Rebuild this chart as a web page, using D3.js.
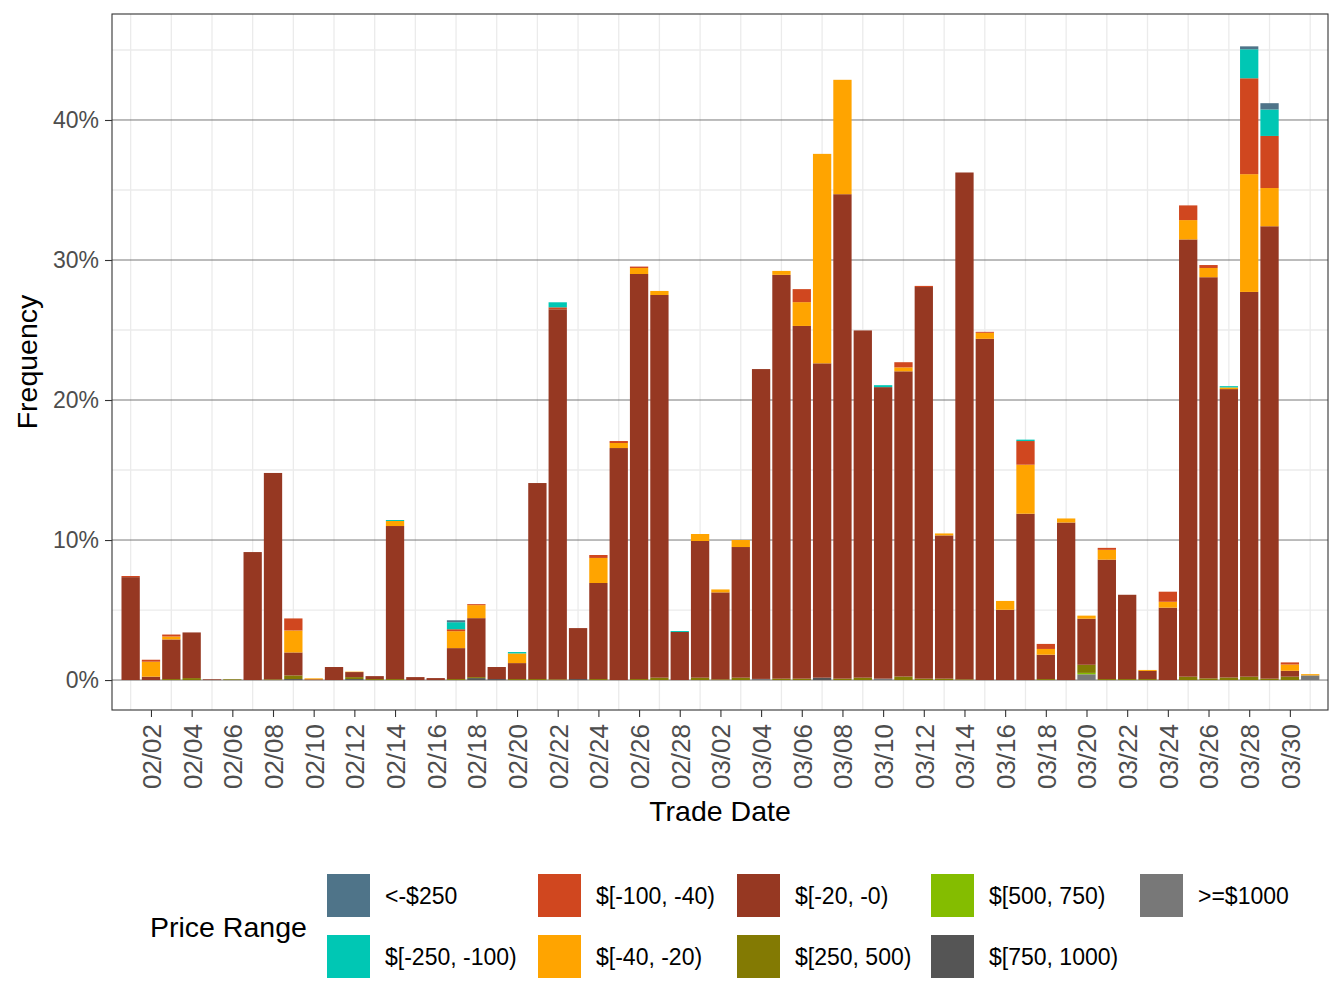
<!DOCTYPE html>
<html>
<head>
<meta charset="utf-8">
<script src="https://cdn.jsdelivr.net/npm/d3@7"></script>
<style>
  body { margin: 0; background: #fff; }
  svg { font-family: "Liberation Sans", Arial, Helvetica, sans-serif; }
</style>
</head>
<body>
<div id="chart"></div>
<script>
// trade dates, one bar each
var dates = [
  '2021-02-01','2021-02-02','2021-02-03','2021-02-04','2021-02-05','2021-02-06','2021-02-07',
  '2021-02-08','2021-02-09','2021-02-10','2021-02-11','2021-02-12','2021-02-13','2021-02-14',
  '2021-02-15','2021-02-16','2021-02-17','2021-02-18','2021-02-19','2021-02-20','2021-02-21',
  '2021-02-22','2021-02-23','2021-02-24','2021-02-25','2021-02-26','2021-02-27','2021-02-28',
  '2021-03-01','2021-03-02','2021-03-03','2021-03-04','2021-03-05','2021-03-06','2021-03-07',
  '2021-03-08','2021-03-09','2021-03-10','2021-03-11','2021-03-12','2021-03-13','2021-03-14',
  '2021-03-15','2021-03-16','2021-03-17','2021-03-18','2021-03-19','2021-03-20','2021-03-21',
  '2021-03-22','2021-03-23','2021-03-24','2021-03-25','2021-03-26','2021-03-27','2021-03-28',
  '2021-03-29','2021-03-30','2021-03-31'
]

// frequency (%) per price range, same order as dates
var ltm250 = [0,0,0,0,0,0,0, 0,0,0,0,0,0,0, 0,0,0.14,0,0,0,0, 0,0,0,0,0,0,0,
  0,0,0,0,0,0,0, 0,0,0,0,0,0,0, 0,0,0,0,0,0,0, 0,0,0,0,0,0,0.21, 0.45,0,0]
var m250_100 = [0,0,0,0,0,0,0, 0,0,0,0,0,0,0.07, 0,0,0.5,0,0,0.1,0, 0.36,0,0,0,0,0,0.07,
  0,0,0,0,0,0,0, 0,0,0.14,0,0,0,0, 0,0,0.1,0,0,0,0, 0,0,0,0,0,0.09,2.07, 1.89,0,0]
var m100_40 = [0.08,0.14,0.14,0,0,0,0, 0,0.86,0,0,0,0,0, 0,0,0.14,0.07,0,0,0, 0.14,0,0.21,0.14,0.1,0,0,
  0,0,0,0,0,0.93,0, 0,0,0,0.37,0.08,0,0, 0.07,0,1.69,0.36,0,0,0.14, 0,0,0.72,1.05,0.21,0,6.85, 3.72,0.15,0]
var m40_20 = [0,1.07,0.21,0,0,0,0, 0,1.57,0.07,0,0.03,0,0.36, 0,0,1.21,0.93,0,0.69,0, 0,0,1.79,0.36,0.43,0.29,0,
  0.5,0.21,0.5,0,0.28,1.7,14.96, 8.17,0,0,0.28,0,0.14,0, 0.43,0.63,3.5,0.41,0.29,0.22,0.7, 0,0.07,0.42,1.38,0.66,0.12,8.41, 2.73,0.45,0.09]
var m20_0 = [7.35,0.24,2.83,3.26,0.05,0,9.14, 14.74,1.64,0.05,0.93,0.36,0.21,10.93, 0.21,0.14,2.21,4.21,0.86,1.14,14.0,
  26.43,3.64,6.86,16.57,28.93,27.33,3.43, 9.76,6.21,9.33,22.13,28.84,25.19,22.45, 34.6,24.8,20.82,21.8,27.97,10.23,36.2,
  24.37,5.02,11.88,1.74,11.25,3.29,8.53, 6.02,0.58,5.17,31.23,28.65,20.6,27.48, 32.31,0.42,0]
var p250_500 = [0,0,0.07,0.14,0,0.05,0, 0.05,0.26,0,0,0.14,0.07,0.07, 0,0,0.07,0.07,0,0.07,0.07, 0.05,0,0.07,0,0.07,0.17,0,
  0.17,0.05,0.17,0,0.1,0.1,0, 0.1,0.17,0,0.25,0.1,0.1,0.05, 0,0,0,0.07,0,0.58,0.07, 0.07,0.07,0,0.24,0.12,0.18,0.24, 0.1,0.24,0]
var p500_750 = [0,0,0,0,0,0,0, 0,0,0,0,0,0,0, 0,0,0,0,0,0,0, 0,0,0,0,0,0,0,
  0,0,0,0,0,0,0, 0,0,0,0,0,0,0, 0,0,0,0,0,0.1,0, 0,0,0,0,0,0,0, 0,0,0]
var p750_1000 = [0,0,0,0,0,0,0, 0,0.07,0,0,0.07,0,0, 0,0,0,0.14,0.07,0,0, 0,0.07,0,0,0,0,0,
  0,0,0,0,0,0,0.17, 0,0,0,0,0,0,0, 0,0,0,0,0,0,0, 0,0,0,0,0,0,0, 0,0,0]
var gte1000 = [0,0,0,0,0,0,0, 0,0,0,0,0,0,0, 0,0,0,0,0,0,0, 0,0,0,0,0,0,0,
  0,0,0,0.08,0,0,0, 0,0,0.1,0,0,0,0, 0,0,0,0,0,0.41,0, 0,0,0,0,0,0,0, 0,0,0.33]

var rangeLabels = ['<-$250', '$[-250, -100)', '$[-100, -40)', '$[-40, -20)', '$[-20, -0)',
  '$[250, 500)', '$[500, 750)', '$[750, 1000)', '>=$1000']
var rangeColors = ['#4f7489', '#00c7b4', '#d0471f', '#ffa400', '#963822',
  '#837a03', '#84bd00', '#555555', '#787878']
var yTicks = [0, 10, 20, 30, 40]

var series = [ltm250, m250_100, m100_40, m40_20, m20_0, p250_500, p500_750, p750_1000, gte1000]

var W = 1344, H = 1008
var panel = {left: 112, right: 1328, top: 14, bottom: 710}

var parse = d3.timeParse('%Y-%m-%d')
var table = dates.map(function(d, i) {
  var row = {date: parse(d)}
  rangeLabels.forEach(function(r, j) { row[r] = series[j][i] })
  return row
})

var svg = d3.select('#chart').append('svg')
  .attr('width', W).attr('height', H)

var first = table[0].date, last = table[table.length - 1].date
var x = d3.scaleTime()
  .domain([d3.timeHour.offset(first, -21.6), d3.timeHour.offset(last, 21.6)])
  .range([panel.left, panel.right])
var dayW = x(d3.timeDay.offset(first, 1)) - x(first)

var y = d3.scaleLinear()
  .domain([-2.14, 47.57])
  .range([panel.bottom, panel.top])

// ggplot stacks the first level on top, so stack bottom-up in reverse
var stackKeys = rangeLabels.slice().reverse()
var stacked = d3.stack().keys(stackKeys)(table)
var color = d3.scaleOrdinal().domain(rangeLabels).range(rangeColors)

// grid
var grid = svg.append('g')
var minorY = [5, 15, 25, 35, 45]
grid.selectAll('.minor-y').data(minorY).enter().append('line')
  .attr('x1', panel.left).attr('x2', panel.right)
  .attr('y1', function(d) { return y(d) }).attr('y2', function(d) { return y(d) })
  .attr('stroke', '#ebebeb').attr('stroke-width', 1.3)
var oddDays = table.filter(function(r) { return r.date.getDate() % 2 === 1 })
grid.selectAll('.minor-x').data(oddDays).enter().append('line')
  .attr('x1', function(d) { return x(d.date) }).attr('x2', function(d) { return x(d.date) })
  .attr('y1', panel.top).attr('y2', panel.bottom)
  .attr('stroke', '#ebebeb').attr('stroke-width', 1.3)
grid.selectAll('.major-y').data(yTicks).enter().append('line')
  .attr('x1', panel.left).attr('x2', panel.right)
  .attr('y1', function(d) { return y(d) }).attr('y2', function(d) { return y(d) })
  .attr('stroke', '#6a6a6a').attr('stroke-width', 0.9)

// bars
svg.append('g').selectAll('g').data(stacked).enter().append('g')
  .attr('fill', function(s) { return color(s.key) })
  .selectAll('rect').data(function(s) { return s }).enter().append('rect')
  .attr('x', function(d) { return x(d.data.date) - dayW * 0.45 })
  .attr('width', dayW * 0.9)
  .attr('y', function(d) { return y(d[1]) })
  .attr('height', function(d) { return Math.max(0, y(d[0]) - y(d[1])) })

// panel border
svg.append('rect')
  .attr('x', panel.left).attr('y', panel.top)
  .attr('width', panel.right - panel.left).attr('height', panel.bottom - panel.top)
  .attr('fill', 'none').attr('stroke', '#333333').attr('stroke-width', 1.1)

// axes
var tickDates = table.filter(function(r) { return r.date.getDate() % 2 === 0 })
  .map(function(r) { return r.date })
var xAxis = svg.append('g')
  .attr('transform', 'translate(0,' + panel.bottom + ')')
  .call(d3.axisBottom(x).tickValues(tickDates).tickFormat(d3.timeFormat('%m/%d')).tickSize(7))
xAxis.select('.domain').remove()
xAxis.selectAll('.tick line').attr('stroke', '#333333').attr('stroke-width', 1.1)
xAxis.selectAll('.tick text')
  .attr('transform', 'rotate(-90)')
  .attr('x', -14).attr('y', 0).attr('dy', '0.36em')
  .attr('text-anchor', 'end')
  .attr('fill', '#4d4d4d').style('font-size', '26px')

var yAxis = svg.append('g')
  .attr('transform', 'translate(' + panel.left + ',0)')
  .call(d3.axisLeft(y).tickValues(yTicks).tickFormat(function(d) { return d + '%' }).tickSize(7).tickPadding(6))
yAxis.select('.domain').remove()
yAxis.selectAll('.tick line').attr('stroke', '#333333').attr('stroke-width', 1.1)
yAxis.selectAll('.tick text').attr('fill', '#4d4d4d').style('font-size', '23px')

// axis titles
svg.append('text')
  .attr('x', (panel.left + panel.right) / 2).attr('y', 821)
  .attr('text-anchor', 'middle').style('font-size', '28.5px')
  .text('Trade Date')
svg.append('text')
  .attr('transform', 'translate(37,' + (panel.top + panel.bottom) / 2 + ') rotate(-90)')
  .attr('text-anchor', 'middle').style('font-size', '28.5px')
  .text('Frequency')

// legend: filled column by column, two rows
var legend = svg.append('g')
legend.append('text')
  .attr('x', 150).attr('y', 937)
  .style('font-size', '28.5px')
  .text('Price Range')
var colX = [327, 538, 737, 931, 1140]
var rowY = [874, 935]
var keySize = 43
rangeLabels.forEach(function(r, i) {
  var cx = colX[Math.floor(i / 2)], cy = rowY[i % 2]
  legend.append('rect')
    .attr('x', cx).attr('y', cy).attr('width', keySize).attr('height', keySize)
    .attr('fill', color(r))
  legend.append('text')
    .attr('x', cx + keySize + 15).attr('y', cy + keySize / 2 + 8)
    .style('font-size', '23px')
    .text(r)
})
</script>
</body>
</html>
